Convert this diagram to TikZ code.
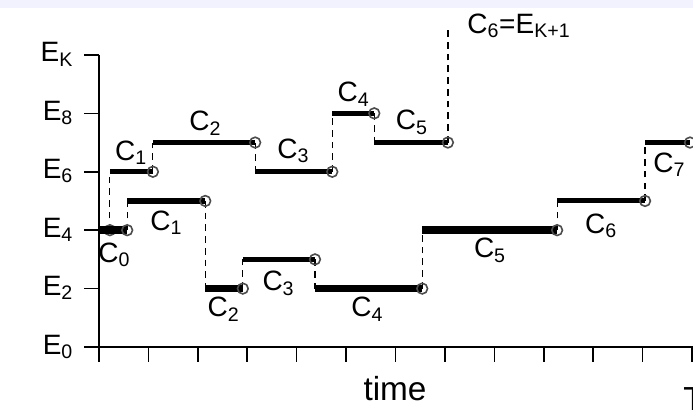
\documentclass[tikz,border=0pt]{standalone}
\usepackage{fontspec}
\setmainfont{Liberation Sans}

\newcommand{\lvl}[1]{E\textsubscript{#1}}
\newcommand{\cls}[1]{C\textsubscript{#1}}

\begin{document}
\begin{tikzpicture}[x=37.05pt, y=21.9pt,
    axis/.style={line width=1.2pt},
    seg/.style={line width=3.8pt},
    fatseg/.style={line width=5.8pt},
    jump/.style={line width=0.9pt, dash pattern=on 5pt off 3.8pt},
    ring/.style={circle, draw=black!70, line width=1.2pt, inner sep=0pt, minimum size=8pt},
    lab/.style={font=\fontsize{21}{24}\selectfont, inner sep=0pt, anchor=base}]
    % Frame
    \useasboundingbox (-2.004,-2.226) rectangle (12.02,11.88);
    \fill[white] (-2.004,-2.226) rectangle (12.02,11.88);
    \fill[blue!5] (-2.004,11.6) rectangle (12.02,11.88);

    % Axes
    \draw[axis] (0,10) -- (0,0) -- (12.1,0);
    \foreach \k in {0,...,12}
        \draw[axis] (\k,0) -- (\k,-0.51);
    \foreach \e/\t in {0/0, 2/2, 4/4, 6/6, 8/8, 10/K} {
        \draw[axis] (-0.3,\e) -- (0,\e);
        \node[lab, anchor=base east] (e\t) at (-0.52,\e-0.24) {\lvl{\t}};
    }
    \node[lab, font=\fontsize{25}{28}\selectfont] (time) at (5.99,-1.82) {time};
    \node[lab, anchor=base west, font=\fontsize{25}{28}\selectfont] (tend) at (11.82,-2.18) {T};

    % Jumps
    \draw[jump] (0.22,4) -- (0.22,6);
    \draw[jump] (1.09,6) -- (1.09,7);
    \draw[jump] (3.16,7) -- (3.16,6);
    \draw[jump] (4.72,6) -- (4.72,8);
    \draw[jump] (5.57,8) -- (5.57,7);
    \draw[jump] (7.06,7) -- (7.06,10.92);
    \draw[jump] (0.57,4) -- (0.57,5);
    \draw[jump] (2.15,5) -- (2.15,2);
    \draw[jump] (2.91,2) -- (2.91,3);
    \draw[jump] (4.37,3) -- (4.37,2);
    \draw[jump] (6.54,2) -- (6.54,4);
    \draw[jump] (9.27,4) -- (9.27,5);
    \draw[jump] (11.05,5) -- (11.05,7);

    % Upper path
    \draw[fatseg] (0,4) -- (0.22,4) node[ring] (a0) {};
    \draw[seg] (0.22,6) -- (1.09,6) node[ring] (a1) {};
    \draw[seg] (1.09,7) -- (3.16,7) node[ring] (a2) {};
    \draw[seg] (3.16,6) -- (4.72,6) node[ring] (a3) {};
    \draw[seg] (4.72,8) -- (5.57,8) node[ring] (a4) {};
    \draw[seg] (5.57,7) -- (7.06,7) node[ring] (a5) {};

    % Lower path
    \draw[fatseg] (0,4) -- (0.57,4) node[ring] (b0) {};
    \draw[seg, line width=4.3pt] (0.57,5) -- (2.15,5) node[ring] (b1) {};
    \draw[seg, line width=5pt] (2.15,2) -- (2.91,2) node[ring] (b2) {};
    \draw[seg] (2.91,3) -- (4.37,3) node[ring] (b3) {};
    \draw[fatseg] (4.37,2) -- (6.54,2) node[ring] (b4) {};
    \draw[fatseg] (6.54,4) -- (9.27,4) node[ring] (b5) {};
    \draw[seg] (9.27,5) -- (11.05,5) node[ring] (b6) {};
    \draw[seg] (11.05,7) -- (11.96,7) node[ring] (b7) {};

    % Labels
    \node[lab] (la1) at (0.65,6.40) {\cls{1}};
    \node[lab] (la2) at (2.15,7.40) {\cls{2}};
    \node[lab] (la3) at (3.93,6.47) {\cls{3}};
    \node[lab] (la4) at (5.15,8.39) {\cls{4}};
    \node[lab] (la5) at (6.33,7.43) {\cls{5}};
    \node[lab, anchor=base west] (la6) at (7.45,10.75) {\cls{6}=E\textsubscript{K+1}};
    \node[lab] (lb0) at (0.31,2.91) {\cls{0}};
    \node[lab] (lb1) at (1.36,4.00) {\cls{1}};
    \node[lab] (lb2) at (2.52,1.03) {\cls{2}};
    \node[lab] (lb3) at (3.63,1.92) {\cls{3}};
    \node[lab] (lb4) at (5.43,1.03) {\cls{4}};
    \node[lab] (lb5) at (7.91,3.05) {\cls{5}};
    \node[lab] (lb6) at (10.16,3.90) {\cls{6}};
    \node[lab] (lb7) at (11.54,5.99) {\cls{7}};
\end{tikzpicture}
\end{document}
